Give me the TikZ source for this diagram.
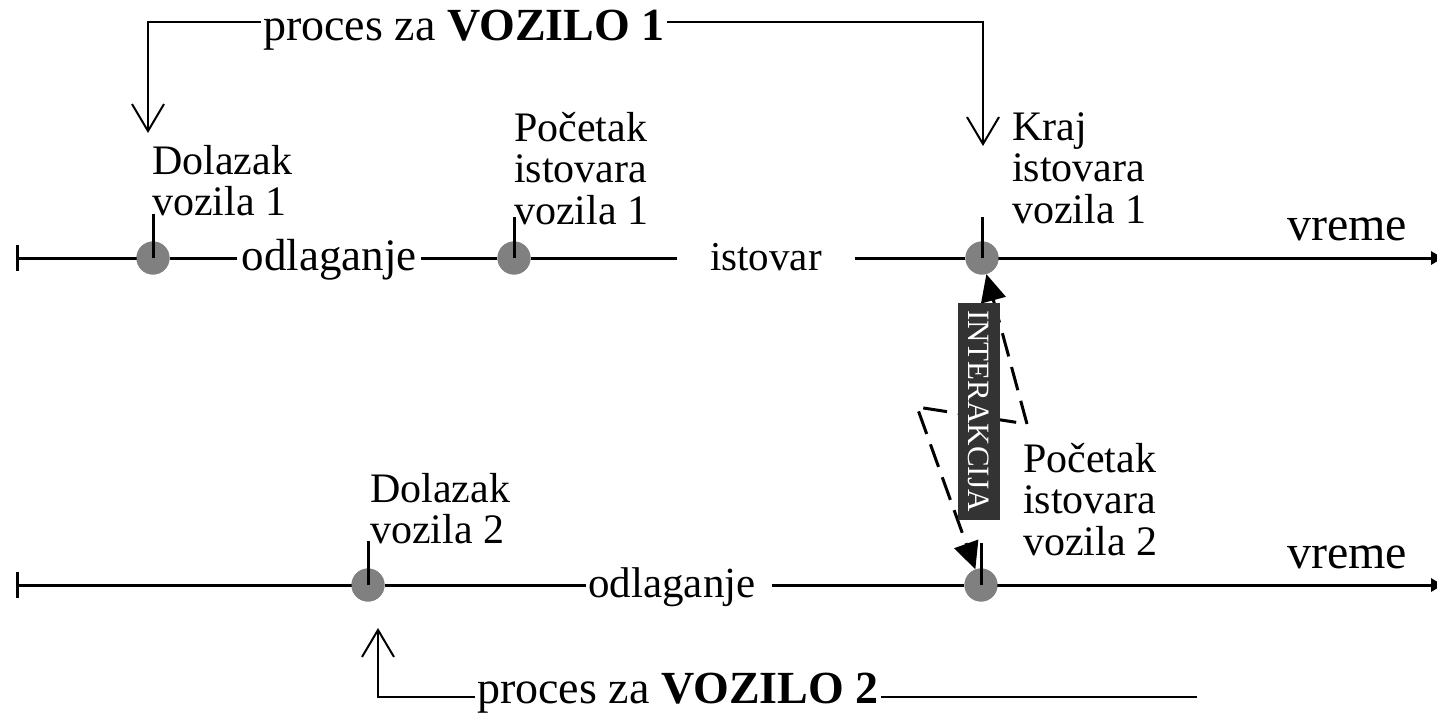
\documentclass[tikz,border=0pt]{standalone}
\usepackage{fontspec}
\setmainfont{Liberation Serif}
\usetikzlibrary{arrows.meta}
\definecolor{evgray}{HTML}{808080}
\definecolor{boxgray}{HTML}{333333}
\begin{document}
\begin{tikzpicture}[x=1pt,y=-1pt,
  lbl/.style={font=\fontsize{42}{41.5}\selectfont, align=left, inner sep=0pt, anchor=north west},
  inl/.style={inner sep=0pt, text height=28pt, text depth=4pt},
  axis/.style={line width=3pt},
  axisend/.style={line width=3pt, -{Triangle[length=12pt,width=13pt]}},
  ev/.style={circle, fill=evgray, minimum size=33pt, inner sep=0pt},
  proc/.style={line width=2pt, -{Straight Barb[length=27pt,width=32pt,line width=2pt]}},
  procline/.style={line width=2pt},
  ttl/.style={font=\fontsize{46}{46}\selectfont, inner xsep=2pt, inner ysep=0pt, anchor=base},
  iarrow/.style={line width=3pt, dash pattern=on 24pt off 11pt,
     {Triangle[length=27pt,width=25pt]}-{Triangle[length=27pt,width=25pt]}},
  iabox/.style={fill=boxgray, text=white, rotate=-90, minimum width=217pt, minimum height=42pt,
     inner sep=0pt, font=\fontsize{31}{31}\selectfont}
]
\path[use as bounding box] (0,0) rectangle (1437,724);

% ---------- timeline 1 ----------
\coordinate (s1) at (17,258);
\coordinate (end1) at (1443,258);
\node[ev] (e1) at (153,258) {};
\node[ev] (e2) at (514,258) {};
\node[ev] (e3) at (982,258) {};
\node[inl, inner xsep=4pt, font=\fontsize{45}{45}\selectfont] (o1) at (329,258) {odlaganje};
\node[inl, inner xsep=33pt, font=\fontsize{41}{41}\selectfont] (ist) at (766,258) {istovar};
\draw[axis] ([yshift=13pt]s1) -- ([yshift=-13pt]s1);
\draw[axis] (s1) -- (e1.center);
\draw[axis] (e1) -- (o1);
\draw[axis] (o1) -- (e2);
\draw[axis] (e2) -- (ist);
\draw[axis] (ist) -- (e3);
\draw[axisend] (e3.center) -- (end1);
\node[ev] at (e1) {};
\node[ev] at (e2) {};
\node[ev] at (e3) {};
\draw[axis] (e1.center) -- ++(0,-44);
\draw[axis] (e2.center) -- ++(0,-41);
\draw[axis] (e3.center) -- ++(0,-41);

% ---------- timeline 2 ----------
\coordinate (s2) at (17,585);
\coordinate (end2) at (1443,585);
\node[ev] (f1) at (368,585) {};
\node[ev] (f2) at (981,585) {};
\node[inl, inner xsep=2pt, font=\fontsize{43}{43}\selectfont] (o2) at (672,585) {odlaganje};
\draw[axis] ([yshift=13pt]s2) -- ([yshift=-13pt]s2);
\draw[axis] (s2) -- (f1.center);
\draw[axis] (f1) -- (o2);
\draw[axis] ([xshift=14pt]o2.east) -- (f2);
\draw[axisend] (f2.center) -- (end2);
\node[ev] at (f1) {};
\node[ev] at (f2) {};
\draw[axis] (f1.center) -- ++(0,-44);
\draw[axis] (f2.center) -- ++(0,-42);

% ---------- labels ----------
\node[lbl] (d1) at (152,145) {Dolazak\\vozila 1};
\node[lbl] (pc1) at (514,112) {Početak\\istovara\\vozila 1};
\node[lbl] (k1) at (1012,112) {Kraj\\istovara\\vozila 1};
\node[lbl] (d2) at (370,473) {Dolazak\\vozila 2};
\node[lbl] (pc2) at (1023,443) {Početak\\istovara\\vozila 2};
\node[font=\fontsize{48}{48}\selectfont, inner sep=0pt, anchor=base west] (v1) at (1287,240) {vreme};
\node[font=\fontsize{48}{48}\selectfont, inner sep=0pt, anchor=base west] (v2) at (1287,568) {vreme};

% ---------- process 1 ----------
\coordinate (p1l) at (148,22);
\coordinate (p1r) at (983,22);
\coordinate (a1) at (148,133);
\coordinate (a2) at (983,146);
\node[ttl] (t1) at (464,40) {proces za \textbf{VOZILO 1}};
\draw[proc] (t1.west |- p1l) -- (p1l) -- (a1);
\draw[proc] (t1.east |- p1r) -- (p1r) -- (a2);

% ---------- process 2 ----------
\coordinate (c2) at (378,697);
\coordinate (r2) at (1197,697);
\coordinate (a3) at (378,628);
\node[ttl] (t2) at (678,703) {proces za \textbf{VOZILO 2}};
\draw[proc] (t2.west |- c2) -- (c2) -- (a3);
\draw[procline] (t2.east |- c2) -- (r2);

% ---------- interaction ----------
\coordinate (zb) at (1027,424);
\coordinate (zc) at (917,407);
\draw[iarrow] (e3) -- (zb) -- (zc) -- (f2);
\node[iabox] (ia) at (979,411) {INTERAKCIJA};
\end{tikzpicture}
\end{document}
